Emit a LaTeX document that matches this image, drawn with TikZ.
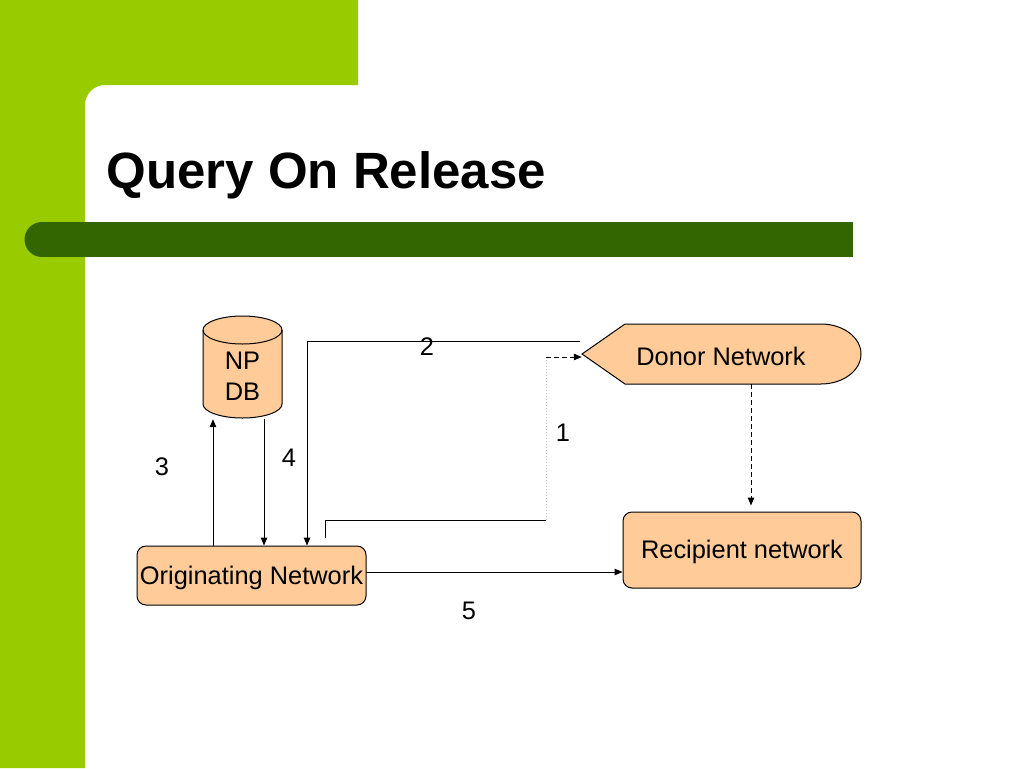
\documentclass[tikz,border=0pt]{standalone}
\usepackage{fontspec}
\setmainfont{Liberation Sans}
\usetikzlibrary{arrows.meta}
\definecolor{limegreen}{HTML}{99CC00}
\definecolor{bargreen}{HTML}{336600}
\definecolor{peach}{HTML}{FFCC99}
\begin{document}
\begin{tikzpicture}[x=1pt,y=-1pt,
    txt/.style={font=\fontsize{25.4}{31}\selectfont},
    netbox/.style={txt,draw,fill=peach,rounded corners=9pt,line width=1pt,inner sep=0pt},
    arr/.style={line width=1pt,-{Triangle[length=8pt,width=6.5pt]}},
    dash5/.style={dash pattern=on 5pt off 3pt}]
      \useasboundingbox (0,0) rectangle (1024,768);
      % slide background
      \fill[white] (0,0) rectangle (1024,768);
      \fill[limegreen] (0,0) -- (358,0) -- (358,85) -- (105,85)
        arc[start angle=-90,end angle=-180,radius=20] -- (85,768) -- (0,768) -- cycle;
      \fill[bargreen] (42,222) rectangle (853,257);
      \fill[bargreen] (42,239.5) circle (17.5);
      \node [anchor=base west,font=\fontsize{51}{60}\selectfont\bfseries] (title) at (103,188) {Query On Release};
      % NP DB
      \filldraw [fill=peach,line width=1pt] (203,330) -- (203,404)
        arc[start angle=180,end angle=0,x radius=39.5,y radius=14] -- (282,330)
        arc[start angle=0,end angle=-180,x radius=39.5,y radius=14] -- cycle;
      \draw [line width=1pt] (203,330) arc[start angle=180,end angle=0,x radius=39.5,y radius=14];
      \node [txt,align=center,inner sep=0pt,minimum width=79pt,minimum height=86pt] (npdb) at (242.5,376) {NP\\DB};
      % Donor Network
      \filldraw [fill=peach,line width=1pt] (582,354) -- (625,324) -- (821,324)
        arc[start angle=-90,end angle=90,x radius=40,y radius=30] -- (625,384) -- cycle;
      \node [txt,inner sep=0pt,minimum width=279pt,minimum height=60pt] (donor) at (721.5,354) {};
      \node [txt] at (721,356) {Donor Network};
      % boxes
      \node [netbox,minimum width=238pt,minimum height=76pt] (recip) at (742,550) {};
      \node [txt] at (742,552) {Recipient network};
      \node [netbox,minimum width=229pt,minimum height=59pt] (orig) at (251.5,575.5) {};
      \node [txt] at (251.5,578) {Originating Network};
      % connectors
      \draw [arr] (orig.north -| 213,0) -- (npdb.south -| 213,0);
      \draw [arr] (npdb.south -| 264,0) -- (orig.north -| 264,0);
      \coordinate (q2) at (580,341);
      \draw [arr] (q2) -- (q2 -| 307,0) -- (orig.north -| 307,0);
      \coordinate (q1) at (325,538);
      \coordinate (c1) at (546,520);
      \coordinate (c1b) at (546,357);
      \draw [line width=1pt] (q1) |- (c1);
      \draw [gray!45,line width=1pt,dotted] (c1) -- (c1b);
      \draw [arr,dash5] (c1b) -- (c1b -| donor.west);
      \draw [arr,dash5,shorten >=6pt] (donor.south -| 751,0) -- (recip.north -| 751,0);
      \coordinate (q5) at (366,572);
      \draw [arr] (q5) -- (q5 -| recip.west);
      % step numbers
      \node [txt] at (563,433) {1};
      \node [txt] at (427,347) {2};
      \node [txt] at (162,467) {3};
      \node [txt] at (289,458) {4};
      \node [txt] at (469,611) {5};
    \end{tikzpicture}
\end{document}
